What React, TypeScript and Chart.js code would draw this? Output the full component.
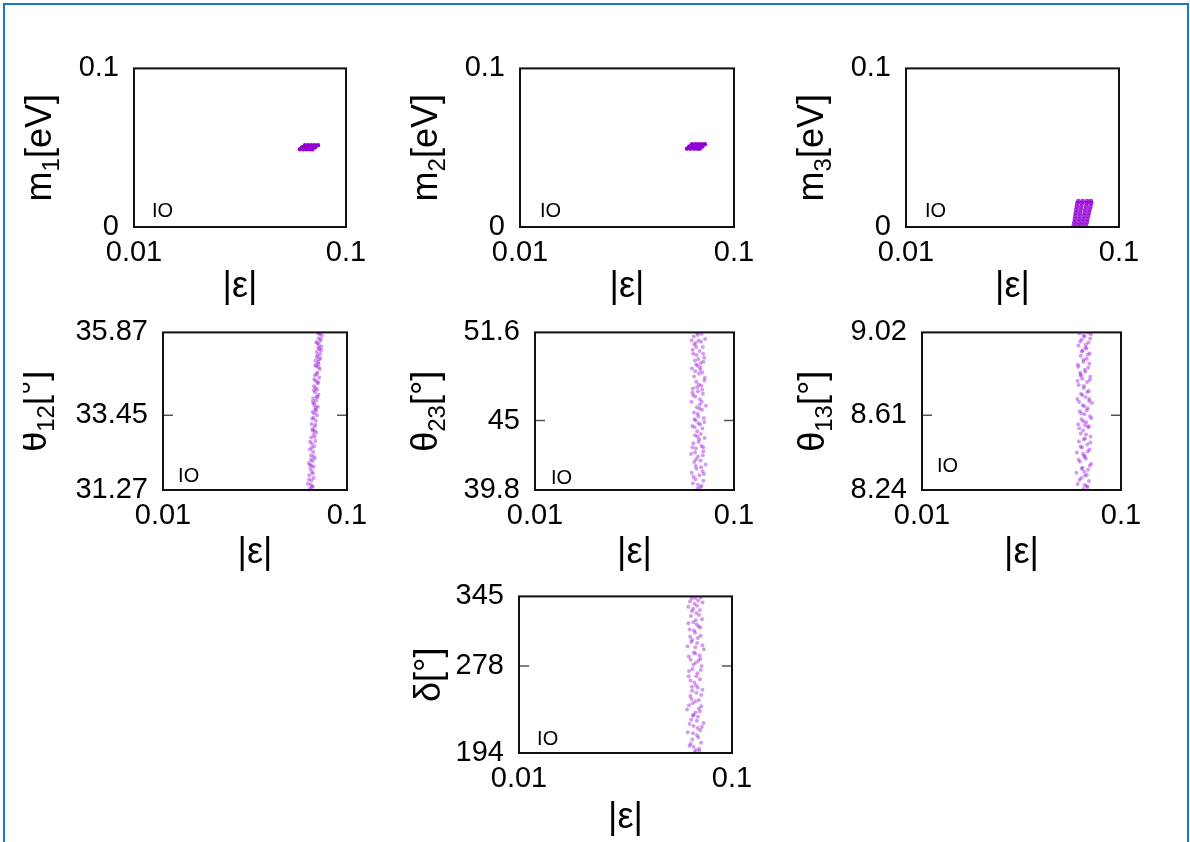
import React, { useEffect, useRef } from 'react';
import { Chart, registerables } from 'chart.js';

Chart.register(...registerables);

const FONT = '"Liberation Sans", Arial, Helvetica, sans-serif';

// ---------- data ----------
const xTickValues = [0.01, 0.1];
const xTickLabels = ['0.01', '0.1'];

const massTicks = [0, 0.1];
const massTickLabels = ['0', '0.1'];
const t12Ticks = [31.27, 33.45, 35.87];
const t12TickLabels = ['31.27', '33.45', '35.87'];
const t23Ticks = [39.8, 45, 51.6];
const t23TickLabels = ['39.8', '45', '51.6'];
const t13Ticks = [8.24, 8.61, 9.02];
const t13TickLabels = ['8.24', '8.61', '9.02'];
const deltaTicks = [194, 278, 345];
const deltaTickLabels = ['194', '278', '345'];

// |eps| vs m1 [eV]
const m1Points = [
  [0.0606, 0.0490], [0.0628, 0.0490], [0.0652, 0.0490], [0.0676, 0.0490], [0.0694, 0.0490],
  [0.0621, 0.0503], [0.0645, 0.0503], [0.0670, 0.0503], [0.0694, 0.0503], [0.0715, 0.0503],
  [0.0640, 0.0516], [0.0664, 0.0516], [0.0688, 0.0516], [0.0712, 0.0516], [0.0738, 0.0516],
];
// |eps| vs m2 [eV]
const m2Points = [
  [0.0603, 0.0494], [0.0627, 0.0494], [0.0652, 0.0494], [0.0676, 0.0494], [0.0692, 0.0494],
  [0.0618, 0.0508], [0.0643, 0.0508], [0.0667, 0.0508], [0.0691, 0.0508], [0.0711, 0.0508],
  [0.0636, 0.0522], [0.0660, 0.0522], [0.0684, 0.0522], [0.0708, 0.0522], [0.0731, 0.0522],
];
// |eps| vs m3 [eV]
const m3Points = [
  [0.0614, 0.0010], [0.0640, 0.0010], [0.0668, 0.0010], [0.0700, 0.0010],
  [0.0618, 0.0030], [0.0646, 0.0030], [0.0675, 0.0030], [0.0706, 0.0030],
  [0.0621, 0.0050], [0.0650, 0.0050], [0.0680, 0.0050], [0.0711, 0.0050],
  [0.0624, 0.0070], [0.0653, 0.0070], [0.0685, 0.0070], [0.0717, 0.0070],
  [0.0627, 0.0090], [0.0657, 0.0090], [0.0690, 0.0090], [0.0722, 0.0090],
  [0.0631, 0.0110], [0.0661, 0.0110], [0.0695, 0.0110], [0.0728, 0.0110],
  [0.0634, 0.0130], [0.0665, 0.0130], [0.0700, 0.0130], [0.0734, 0.0130],
  [0.0638, 0.0150], [0.0670, 0.0150], [0.0705, 0.0150], [0.0740, 0.0150],
  [0.0645, 0.0163], [0.0675, 0.0163], [0.0708, 0.0163], [0.0738, 0.0163],
];
// |eps| vs theta12 [deg]
const t12Points = [
  [0.0628, 31.30], [0.0651, 31.38], [0.0613, 31.45], [0.0640, 31.55], [0.0659, 31.62], [0.0624, 31.70],
  [0.0645, 31.80], [0.0633, 31.88], [0.0660, 31.95], [0.0621, 32.05], [0.0650, 32.12], [0.0668, 32.20],
  [0.0637, 32.28], [0.0655, 32.38], [0.0629, 32.45], [0.0664, 32.55], [0.0645, 32.62], [0.0673, 32.70],
  [0.0638, 32.80], [0.0659, 32.88], [0.0680, 32.95], [0.0648, 33.05], [0.0666, 33.12], [0.0641, 33.20],
  [0.0676, 33.30], [0.0657, 33.38], [0.0688, 33.45], [0.0650, 33.55], [0.0671, 33.62], [0.0694, 33.70],
  [0.0660, 33.80], [0.0680, 33.88], [0.0655, 33.95], [0.0700, 34.05], [0.0670, 34.12], [0.0688, 34.20],
  [0.0662, 34.30], [0.0693, 34.38], [0.0677, 34.45], [0.0706, 34.55], [0.0669, 34.62], [0.0690, 34.70],
  [0.0712, 34.80], [0.0680, 34.88], [0.0699, 34.95], [0.0675, 35.05], [0.0716, 35.12], [0.0692, 35.20],
  [0.0684, 35.30], [0.0708, 35.38], [0.0726, 35.45], [0.0690, 35.55], [0.0714, 35.62], [0.0700, 35.70],
  [0.0731, 35.78], [0.0696, 35.85], [0.0719, 35.86], [0.0643, 31.35], [0.0636, 32.15], [0.0668, 33.00],
  [0.0664, 33.50], [0.0684, 34.00], [0.0697, 35.00], [0.0705, 35.50],
  [0.0636, 31.42], [0.0621, 31.58], [0.0652, 31.75], [0.0629, 32.00], [0.0657, 32.25], [0.0644, 32.50],
  [0.0630, 32.68], [0.0667, 32.82], [0.0652, 33.00], [0.0674, 33.18], [0.0647, 33.35], [0.0680, 33.58],
  [0.0664, 33.75], [0.0652, 33.85], [0.0690, 33.98], [0.0675, 34.25], [0.0697, 34.42], [0.0664, 34.50],
  [0.0684, 34.65], [0.0701, 34.85], [0.0672, 34.92], [0.0706, 35.08], [0.0687, 35.15], [0.0723, 35.35],
  [0.0697, 35.42], [0.0681, 35.58], [0.0721, 35.68], [0.0707, 35.82], [0.0641, 31.98], [0.0678, 33.68],
  [0.0660, 34.18], [0.0715, 35.25],
];
// |eps| vs theta23 [deg]
const t23Points = [
  [0.0655, 39.9], [0.0688, 40.1], [0.0621, 40.3], [0.0702, 40.5], [0.0640, 40.6], [0.0671, 40.9],
  [0.0613, 41.1], [0.0695, 41.2], [0.0648, 41.4], [0.0720, 41.7], [0.0632, 41.9], [0.0679, 42.0],
  [0.0660, 42.3], [0.0608, 42.5], [0.0701, 42.7], [0.0644, 42.9], [0.0686, 43.1], [0.0625, 43.3],
  [0.0668, 43.6], [0.0712, 43.7], [0.0637, 43.9], [0.0653, 44.2], [0.0694, 44.4], [0.0617, 44.6],
  [0.0676, 44.7], [0.0641, 45.0], [0.0705, 45.2], [0.0662, 45.3], [0.0629, 45.6], [0.0690, 45.8],
  [0.0650, 46.0], [0.0723, 46.1], [0.0611, 46.4], [0.0673, 46.6], [0.0639, 46.8], [0.0698, 47.0],
  [0.0658, 47.2], [0.0622, 47.4], [0.0684, 47.6], [0.0646, 47.9], [0.0710, 48.0], [0.0630, 48.3],
  [0.0667, 48.5], [0.0693, 48.6], [0.0615, 48.9], [0.0656, 49.1], [0.0681, 49.3], [0.0636, 49.5],
  [0.0708, 49.7], [0.0649, 49.9], [0.0672, 50.2], [0.0620, 50.3], [0.0697, 50.5], [0.0643, 50.8],
  [0.0664, 51.0], [0.0716, 51.1], [0.0628, 51.3], [0.0687, 51.5], [0.0651, 51.55], [0.0675, 40.0],
  [0.0633, 45.1], [0.0666, 47.7], [0.0700, 43.0], [0.0645, 49.2],
  [0.0659, 40.2], [0.0626, 40.8], [0.0683, 41.5], [0.0645, 42.1], [0.0697, 42.4], [0.0618, 43.0],
  [0.0664, 43.4], [0.0681, 44.0], [0.0634, 44.5], [0.0710, 44.9], [0.0657, 45.5], [0.0674, 46.2],
  [0.0624, 46.9], [0.0692, 47.3], [0.0652, 47.5], [0.0714, 48.2], [0.0638, 48.7], [0.0679, 49.0],
  [0.0661, 49.6], [0.0624, 50.0], [0.0700, 50.0], [0.0646, 50.5], [0.0683, 50.9], [0.0658, 51.4],
  [0.0612, 51.0], [0.0706, 41.0], [0.0637, 42.6], [0.0670, 45.9], [0.0618, 47.1], [0.0702, 49.4],
  [0.0654, 43.8], [0.0689, 46.4], [0.0642, 41.6], [0.0676, 48.8], [0.0631, 50.7], [0.0663, 44.8],
];
// |eps| vs theta13 [deg]
const t13Points = [
  [0.0648, 8.245], [0.0672, 8.260], [0.0606, 8.270], [0.0690, 8.285], [0.0631, 8.300], [0.0659, 8.310],
  [0.0597, 8.325], [0.0683, 8.340], [0.0640, 8.350], [0.0708, 8.370], [0.0622, 8.380], [0.0666, 8.395],
  [0.0652, 8.410], [0.0600, 8.425], [0.0694, 8.440], [0.0636, 8.450], [0.0677, 8.465], [0.0615, 8.480],
  [0.0660, 8.495], [0.0703, 8.505], [0.0628, 8.520], [0.0645, 8.535], [0.0686, 8.550], [0.0609, 8.565],
  [0.0668, 8.575], [0.0633, 8.590], [0.0699, 8.605], [0.0655, 8.615], [0.0620, 8.630], [0.0681, 8.645],
  [0.0642, 8.660], [0.0715, 8.670], [0.0603, 8.690], [0.0664, 8.700], [0.0630, 8.715], [0.0689, 8.730],
  [0.0650, 8.745], [0.0613, 8.760], [0.0675, 8.775], [0.0638, 8.790], [0.0701, 8.800], [0.0624, 8.820],
  [0.0658, 8.835], [0.0684, 8.845], [0.0607, 8.860], [0.0647, 8.875], [0.0672, 8.890], [0.0627, 8.905],
  [0.0696, 8.915], [0.0641, 8.930], [0.0663, 8.945], [0.0611, 8.955], [0.0688, 8.970], [0.0635, 8.985],
  [0.0656, 9.000], [0.0706, 9.010], [0.0619, 9.015], [0.0679, 8.255], [0.0644, 8.420], [0.0661, 8.560],
  [0.0692, 8.680], [0.0626, 8.810], [0.0670, 8.940], [0.0653, 8.330],
  [0.0656, 8.265], [0.0618, 8.290], [0.0674, 8.315], [0.0635, 8.345], [0.0697, 8.360], [0.0612, 8.390],
  [0.0658, 8.405], [0.0681, 8.430], [0.0627, 8.455], [0.0702, 8.475], [0.0650, 8.490], [0.0667, 8.515],
  [0.0617, 8.545], [0.0688, 8.555], [0.0646, 8.580], [0.0709, 8.595], [0.0632, 8.620], [0.0672, 8.635],
  [0.0654, 8.655], [0.0616, 8.675], [0.0693, 8.690], [0.0639, 8.710], [0.0676, 8.725], [0.0651, 8.755],
  [0.0605, 8.780], [0.0697, 8.785], [0.0630, 8.805], [0.0662, 8.825], [0.0610, 8.850], [0.0693, 8.865],
  [0.0648, 8.885], [0.0680, 8.910], [0.0636, 8.925], [0.0667, 8.960], [0.0623, 8.975], [0.0700, 8.990],
  [0.0649, 9.005], [0.0684, 9.018],
];
// |eps| vs delta [deg]
const deltaPoints = [
  [0.0668, 195], [0.0701, 198], [0.0632, 201], [0.0716, 204], [0.0651, 207], [0.0685, 211],
  [0.0620, 214], [0.0709, 216], [0.0660, 220], [0.0735, 223], [0.0643, 226], [0.0692, 229],
  [0.0674, 233], [0.0615, 236], [0.0718, 239], [0.0655, 242], [0.0699, 245], [0.0637, 249],
  [0.0681, 252], [0.0727, 255], [0.0648, 258], [0.0665, 262], [0.0707, 265], [0.0626, 268],
  [0.0689, 271], [0.0652, 275], [0.0720, 278], [0.0676, 281], [0.0640, 284], [0.0704, 288],
  [0.0662, 291], [0.0738, 294], [0.0618, 297], [0.0686, 300], [0.0650, 303], [0.0712, 307],
  [0.0671, 310], [0.0633, 313], [0.0697, 316], [0.0658, 320], [0.0724, 323], [0.0641, 326],
  [0.0680, 329], [0.0706, 332], [0.0623, 335], [0.0667, 338], [0.0694, 341], [0.0646, 343],
  [0.0714, 344], [0.0660, 200], [0.0690, 218], [0.0645, 246], [0.0678, 259], [0.0711, 285],
  [0.0636, 306], [0.0683, 318], [0.0657, 333], [0.0700, 237], [0.0629, 273], [0.0672, 296],
  [0.0676, 197], [0.0640, 203], [0.0695, 209], [0.0656, 213], [0.0722, 219], [0.0633, 222],
  [0.0684, 225], [0.0661, 231], [0.0707, 234], [0.0628, 240], [0.0673, 244], [0.0717, 250],
  [0.0650, 254], [0.0692, 257], [0.0638, 264], [0.0680, 268], [0.0713, 274], [0.0659, 279],
  [0.0696, 283], [0.0627, 287], [0.0672, 290], [0.0726, 298], [0.0644, 301], [0.0691, 305],
  [0.0663, 312], [0.0710, 315], [0.0624, 319], [0.0676, 322], [0.0700, 327], [0.0649, 331],
  [0.0685, 336], [0.0728, 339], [0.0635, 340], [0.0672, 343.5], [0.0702, 196], [0.0655, 230],
];

const ioLabel = 'IO';

// ---------- layout / styling ----------
type Part = { t: string; sub?: boolean };
type PanelCfg = {
  box: [number, number, number, number];
  yTicks: number[];
  yLabels: string[];
  title: Part[];
  titleX: number;
  xTitleDy: number;
  points: number[][];
  kind: 'blob' | 'band' | 'cloud';
  io: [number, number];
  midTick: boolean;
};

const PANELS: PanelCfg[] = [
  { box: [134, 66, 346, 227], yTicks: massTicks, yLabels: massTickLabels, title: [{ t: 'm' }, { t: '1', sub: true }, { t: '[eV]' }], titleX: 51, xTitleDy: 60, points: m1Points, kind: 'blob', io: [0.085, 0.096], midTick: false },
  { box: [520, 66, 734, 227], yTicks: massTicks, yLabels: massTickLabels, title: [{ t: 'm' }, { t: '2', sub: true }, { t: '[eV]' }], titleX: 437, xTitleDy: 60, points: m2Points, kind: 'blob', io: [0.093, 0.1], midTick: false },
  { box: [906, 66, 1119, 227], yTicks: massTicks, yLabels: massTickLabels, title: [{ t: 'm' }, { t: '3', sub: true }, { t: '[eV]' }], titleX: 823, xTitleDy: 60, points: m3Points, kind: 'cloud', io: [0.089, 0.096], midTick: false },
  { box: [163, 330, 347, 490], yTicks: t12Ticks, yLabels: t12TickLabels, title: [{ t: 'θ' }, { t: '12', sub: true }, { t: '[°]' }], titleX: 46, xTitleDy: 63, points: t12Points, kind: 'band', io: [0.082, 0.084], midTick: true },
  { box: [535, 330, 734, 490], yTicks: t23Ticks, yLabels: t23TickLabels, title: [{ t: 'θ' }, { t: '23', sub: true }, { t: '[°]' }], titleX: 437, xTitleDy: 63, points: t23Points, kind: 'band', io: [0.08, 0.075], midTick: true },
  { box: [922, 330, 1121, 490], yTicks: t13Ticks, yLabels: t13TickLabels, title: [{ t: 'θ' }, { t: '13', sub: true }, { t: '[°]' }], titleX: 824, xTitleDy: 63, points: t13Points, kind: 'band', io: [0.075, 0.15], midTick: true },
  { box: [519, 594, 732, 753], yTicks: deltaTicks, yLabels: deltaTickLabels, title: [{ t: 'δ' }, { t: '[°]' }], titleX: 440, xTitleDy: 65, points: deltaPoints, kind: 'band', io: [0.085, 0.085], midTick: true },
];

const PAD_L = 140;
const PAD_T = 30;
const PAD_R = 40;
const PAD_B = 90;

const TICK_SIZE = 29;
const TITLE_SIZE = 36;
const SUB_SIZE = 24;

function Panel({ cfg }: { cfg: PanelCfg }) {
  const ref = useRef<HTMLCanvasElement | null>(null);
  const [l, t, r, b] = cfg.box;
  const W = r - l + PAD_L + PAD_R;
  const H = b - t + PAD_T + PAD_B;
  const cLeft = l - PAD_L;
  const cTop = t - PAD_T;

  useEffect(() => {
    if (!ref.current) return;
    const color =
      cfg.kind === 'blob' ? '#9400D3' : cfg.kind === 'cloud' ? 'rgba(148,0,211,0.8)' : 'rgba(150,20,215,0.42)';
    const radius = cfg.kind === 'blob' ? 2.2 : cfg.kind === 'cloud' ? 2.4 : 2.0;

    const deco = {
      id: 'deco',
      afterDatasetsDraw(chart: any) {
        const { ctx, chartArea } = chart;
        const ca = chartArea;
        ctx.save();
        if (cfg.midTick) {
          const ys = chart.scales.y;
          const py = ys.getPixelForValue(cfg.yTicks[1]);
          ctx.strokeStyle = '#555';
          ctx.lineWidth = 1.5;
          ctx.beginPath();
          ctx.moveTo(ca.left, py);
          ctx.lineTo(ca.left + 10, py);
          ctx.moveTo(ca.right, py);
          ctx.lineTo(ca.right - 10, py);
          ctx.stroke();
        }
        ctx.strokeStyle = '#111';
        ctx.lineWidth = 2;
        ctx.strokeRect(ca.left, ca.top, ca.right - ca.left, ca.bottom - ca.top);
        ctx.fillStyle = '#000';
        ctx.font = `20px ${FONT}`;
        ctx.textAlign = 'left';
        ctx.textBaseline = 'middle';
        ctx.fillText(
          ioLabel,
          ca.left + cfg.io[0] * (ca.right - ca.left),
          ca.bottom - cfg.io[1] * (ca.bottom - ca.top)
        );
        ctx.font = `${TITLE_SIZE}px ${FONT}`;
        ctx.textAlign = 'center';
        ctx.fillText('|ε|', (ca.left + ca.right) / 2, ca.bottom + cfg.xTitleDy);
        ctx.translate(cfg.titleX - cLeft, (ca.top + ca.bottom) / 2);
        ctx.rotate(-Math.PI / 2);
        ctx.textAlign = 'left';
        ctx.textBaseline = 'alphabetic';
        let total = 0;
        const widths = cfg.title.map((p) => {
          ctx.font = `${p.sub ? SUB_SIZE : TITLE_SIZE}px ${FONT}`;
          const w = ctx.measureText(p.t).width;
          total += w;
          return w;
        });
        let cx = -total / 2;
        cfg.title.forEach((p, i) => {
          ctx.font = `${p.sub ? SUB_SIZE : TITLE_SIZE}px ${FONT}`;
          ctx.fillText(p.t, cx, p.sub ? 8 : 0);
          cx += widths[i];
        });
        ctx.restore();
      },
    };

    const chart = new Chart(ref.current, {
      type: 'scatter',
      data: {
        datasets: [
          {
            data: cfg.points as any,
            pointRadius: radius,
            pointHoverRadius: radius,
            pointBackgroundColor: color,
            pointBorderWidth: 0,
            showLine: false,
            clip: 0 as any,
          },
        ],
      },
      options: {
        animation: false,
        responsive: false,
        devicePixelRatio: 1,
        events: [],
        layout: { padding: { left: 0, top: PAD_T, right: PAD_R, bottom: 0 } },
        plugins: { legend: { display: false }, tooltip: { enabled: false } },
        scales: {
          x: {
            type: 'logarithmic',
            min: xTickValues[0],
            max: xTickValues[xTickValues.length - 1],
            grid: { display: false, drawTicks: false },
            border: { display: false },
            afterBuildTicks: (s: any) => {
              s.ticks = xTickValues.map((v) => ({ value: v }));
            },
            afterFit: (s: any) => {
              s.height = PAD_B;
            },
            ticks: {
              autoSkip: false,
              maxRotation: 0,
              minRotation: 0,
              padding: 9,
              color: '#000',
              font: { family: FONT, size: TICK_SIZE },
              callback: (_v: any, i: number) => xTickLabels[i],
            },
          },
          y: {
            type: 'linear',
            min: cfg.yTicks[0],
            max: cfg.yTicks[cfg.yTicks.length - 1],
            grid: { display: false, drawTicks: false },
            border: { display: false },
            afterBuildTicks: (s: any) => {
              s.ticks = cfg.yTicks.map((v) => ({ value: v }));
            },
            afterFit: (s: any) => {
              s.width = PAD_L;
            },
            ticks: {
              autoSkip: false,
              padding: 15,
              color: '#000',
              font: { family: FONT, size: TICK_SIZE },
              callback: (_v: any, i: number) => cfg.yLabels[i],
            },
          },
        },
      },
      plugins: [deco],
    } as any);
    return () => chart.destroy();
  }, [cfg]);

  return (
    <canvas
      ref={ref}
      width={W}
      height={H}
      style={{ position: 'absolute', left: cLeft, top: cTop, width: W, height: H }}
    />
  );
}

export default function App() {
  return (
    <div
      style={{
        position: 'fixed',
        left: 0,
        top: 0,
        width: 1190,
        height: 842,
        background: '#fff',
        overflow: 'hidden',
      }}
    >
      <div
        style={{
          position: 'absolute',
          left: 3,
          top: 3,
          width: 1182,
          height: 900,
          borderLeft: '2px solid #1a78c8',
          borderTop: '2px solid #1a78c8',
          borderRight: '2px solid #1a78c8',
        }}
      />
      {PANELS.map((p, i) => (
        <Panel key={i} cfg={p} />
      ))}
    </div>
  );
}
